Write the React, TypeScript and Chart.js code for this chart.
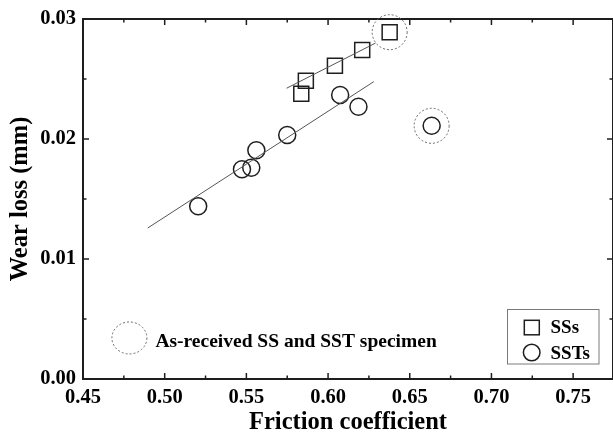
import React, { useEffect, useRef } from "react";
import { Chart, registerables } from "chart.js";

Chart.register(...registerables);

// Stainless steel (SSs) specimens: friction coefficient vs. wear loss (mm)
const ssFriction = [0.5836, 0.5864, 0.6042, 0.6209, 0.6377];
const ssWear = [0.02377, 0.02485, 0.0261, 0.02742, 0.0289];

// Treated stainless steel (SSTs) specimens
const sstFriction = [0.5205, 0.5473, 0.553, 0.5561, 0.575, 0.6074, 0.6186, 0.6634];
const sstWear = [0.0144, 0.01748, 0.01761, 0.01906, 0.02033, 0.02367, 0.02269, 0.0211];

// Linear trend lines (end points)
const ssFitFriction = [0.5746, 0.629];
const ssFitWear = [0.02423, 0.02799];
const sstFitFriction = [0.4896, 0.628];
const sstFitWear = [0.01258, 0.02478];

// As-received specimens, highlighted with dashed rings
const asReceivedFriction = [0.6377, 0.6634];
const asReceivedWear = [0.0289, 0.0211];

// Key marker for the dashed ring note
const noteFriction = 0.4784;
const noteWear = 0.00342;
const noteText = "As-received SS and SST specimen";

const seriesNames = ["SSs", "SSTs"];

const xTicks = [0.45, 0.5, 0.55, 0.6, 0.65, 0.7, 0.75];
const yTicks = [0, 0.01, 0.02, 0.03];
const xMin = 0.45;
const xMax = 0.7744;
const yMin = 0;
const yMax = 0.03;

const FONT = '"Liberation Serif", "Times New Roman", serif';
const INK = "#1e1e1e";

const toPoints = (xs: number[], ys: number[]) => xs.map((x, i) => ({ x, y: ys[i] }));

const framePlugin = {
  id: "frameAndNotes",
  afterDraw(chart: any) {
    const { ctx, chartArea, scales } = chart;
    const { left, right, top, bottom } = chartArea;
    const xs = scales.x;
    const ys = scales.y;
    ctx.save();

    // frame
    ctx.strokeStyle = INK;
    ctx.lineWidth = 2;
    ctx.strokeRect(left, top, right - left, bottom - top);

    // inward ticks on all four sides
    ctx.lineWidth = 1.5;
    const major = 6;
    const minor = 3.5;
    const line = (x1: number, y1: number, x2: number, y2: number) => {
      ctx.beginPath();
      ctx.moveTo(x1, y1);
      ctx.lineTo(x2, y2);
      ctx.stroke();
    };
    const xStep = xTicks[1] - xTicks[0];
    xTicks.forEach((v) => {
      const px = xs.getPixelForValue(v);
      line(px, bottom, px, bottom - major);
      line(px, top, px, top + major);
      const m = v + xStep / 2;
      if (m < xMax) {
        const pm = xs.getPixelForValue(m);
        line(pm, bottom, pm, bottom - minor);
        line(pm, top, pm, top + minor);
      }
    });
    const yStep = yTicks[1] - yTicks[0];
    yTicks.forEach((v) => {
      const py = ys.getPixelForValue(v);
      line(left, py, left + major, py);
      line(right, py, right - major, py);
      const m = v + yStep / 2;
      if (m < yMax) {
        const pm = ys.getPixelForValue(m);
        line(left, pm, left + minor, pm);
        line(right, pm, right - minor, pm);
      }
    });

    // dashed rings around the as-received specimens
    ctx.strokeStyle = "#6a6a6a";
    ctx.lineWidth = 1;
    ctx.setLineDash([2, 2]);
    asReceivedFriction.forEach((fx, i) => {
      ctx.beginPath();
      ctx.arc(xs.getPixelForValue(fx), ys.getPixelForValue(asReceivedWear[i]), 17.5, 0, Math.PI * 2);
      ctx.stroke();
    });

    // note: ring + text
    const nx = xs.getPixelForValue(noteFriction);
    const ny = ys.getPixelForValue(noteWear);
    ctx.beginPath();
    ctx.ellipse(nx, ny, 17.5, 16, 0, 0, Math.PI * 2);
    ctx.stroke();
    ctx.setLineDash([]);
    ctx.fillStyle = "#000";
    ctx.font = `bold 19.5px ${FONT}`;
    ctx.textAlign = "left";
    ctx.textBaseline = "alphabetic";
    ctx.fillText(noteText, nx + 26, ny + 8.7);

    // legend box
    const bx = 507.5;
    const by = 309.5;
    const bw = 91.5;
    const bh = 54.5;
    ctx.strokeStyle = "#7a7a7a";
    ctx.lineWidth = 1;
    ctx.strokeRect(bx, by, bw, bh);
    ctx.strokeStyle = INK;
    ctx.lineWidth = 1.5;
    ctx.strokeRect(524.3, 320.3, 15, 14.5);
    ctx.beginPath();
    ctx.arc(531.7, 352.5, 8.3, 0, Math.PI * 2);
    ctx.stroke();
    ctx.font = `bold 19px ${FONT}`;
    ctx.fillStyle = "#000";
    ctx.fillText(seriesNames[0], 550.5, 333);
    ctx.fillText(seriesNames[1], 550.5, 358.5);

    ctx.restore();
  },
};

export default function App() {
  const canvasRef = useRef<HTMLCanvasElement | null>(null);

  useEffect(() => {
    const canvas = canvasRef.current;
    if (!canvas) return;
    const tickFont = { family: FONT, size: 20.5, weight: "bold" as const };
    const titleFont = { family: FONT, size: 24.5, weight: "bold" as const };
    const chart = new Chart(canvas, {
      type: "scatter",
      data: {
        datasets: [
          {
            label: "SS fit",
            data: toPoints(ssFitFriction, ssFitWear),
            showLine: true,
            borderColor: "#555",
            borderWidth: 1,
            pointRadius: 0,
          },
          {
            label: "SST fit",
            data: toPoints(sstFitFriction, sstFitWear),
            showLine: true,
            borderColor: "#555",
            borderWidth: 1,
            pointRadius: 0,
          },
          {
            label: seriesNames[0],
            data: toPoints(ssFriction, ssWear),
            pointStyle: "rect",
            pointRadius: 10.6,
            pointBorderWidth: 1.5,
            pointBorderColor: INK,
            pointBackgroundColor: "rgba(0,0,0,0)",
            showLine: false,
          },
          {
            label: seriesNames[1],
            data: toPoints(sstFriction, sstWear),
            pointStyle: "circle",
            pointRadius: 8.5,
            pointBorderWidth: 1.5,
            pointBorderColor: INK,
            pointBackgroundColor: "rgba(0,0,0,0)",
            showLine: false,
          },
        ],
      },
      options: {
        responsive: false,
        animation: false,
        devicePixelRatio: 1,
        layout: { autoPadding: false, padding: { top: 19, right: -2, left: 0, bottom: 0 } },
        plugins: {
          legend: { display: false },
          tooltip: { enabled: false },
        },
        scales: {
          x: {
            type: "linear",
            min: xMin,
            max: xMax,
            grid: { display: false, drawTicks: false },
            border: { display: false },
            afterBuildTicks: (s: any) => {
              s.ticks = xTicks.map((v) => ({ value: v }));
            },
            afterFit: (s: any) => {
              s.height = 54;
              s.paddingLeft = 0;
              s.paddingRight = 0;
            },
            ticks: {
              font: tickFont,
              color: "#000",
              padding: 6,
              maxRotation: 0,
              callback: (v: any) => Number(v).toFixed(2),
            },
            title: {
              display: true,
              text: "Friction coefficient",
              font: titleFont,
              color: "#000",
              padding: { top: 0, bottom: -4 },
            },
          },
          y: {
            type: "linear",
            min: yMin,
            max: yMax,
            grid: { display: false, drawTicks: false },
            border: { display: false },
            afterBuildTicks: (s: any) => {
              s.ticks = yTicks.map((v) => ({ value: v }));
            },
            afterFit: (s: any) => {
              s.width = 83;
              s.paddingTop = 0;
              s.paddingBottom = 0;
            },
            ticks: {
              font: tickFont,
              color: "#000",
              padding: 7,
              callback: (v: any) => Number(v).toFixed(2),
            },
            title: {
              display: true,
              text: "Wear loss (mm)",
              font: titleFont,
              color: "#000",
              padding: { top: 6, bottom: 0 },
            },
          },
        },
      },
      plugins: [framePlugin],
    });
    return () => chart.destroy();
  }, []);

  return (
    <div style={{ position: "absolute", left: 0, top: 0, width: 613, height: 433, background: "#fff" }}>
      <canvas ref={canvasRef} width={613} height={433} />
    </div>
  );
}
